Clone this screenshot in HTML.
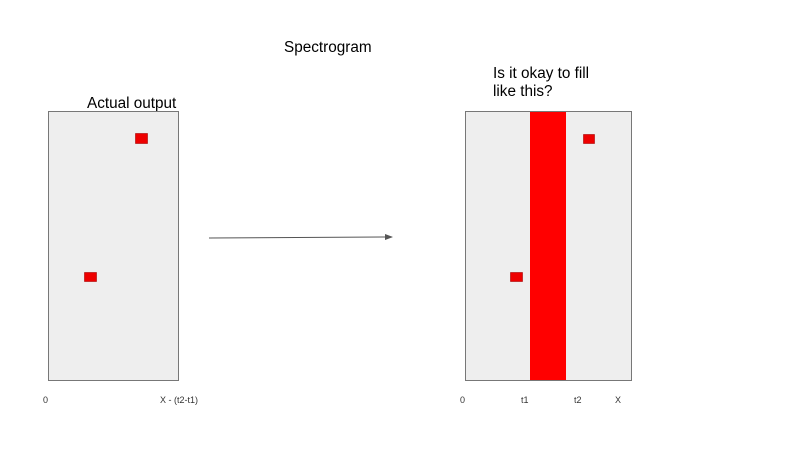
<!DOCTYPE html>
<html><head><meta charset="utf-8"><style>
body{margin:0;width:800px;height:450px;background:#fff;overflow:hidden;font-family:"Liberation Sans",Arial,sans-serif}
</style></head><body>
<svg width="800" height="450" font-family="Liberation Sans, Arial, sans-serif">
<defs><marker id="ah" markerWidth="8" markerHeight="6" refX="7" refY="3" orient="auto"><path d="M0,0 L8,3 L0,6 z" fill="#555"/></marker></defs>
<text x="284" y="52" font-size="15.3" fill="#000">Spectrogram</text>
<text x="87" y="108" font-size="15.3" fill="#000">Actual output</text>
<text x="493" y="78" font-size="15.3" fill="#000">Is it okay to fill</text>
<text x="493" y="96" font-size="15.3" fill="#000">like this?</text>
<rect x="48.5" y="111.5" width="130" height="269" fill="#eeeeee" stroke="#777"/>
<rect x="135.5" y="133.5" width="12" height="10" fill="#ee0000" stroke="#a00" stroke-width="0.6"/>
<rect x="84.5" y="272.5" width="12" height="9" fill="#ee0000" stroke="#a00" stroke-width="0.6"/>
<line x1="209" y1="238" x2="392" y2="237" stroke="#555" stroke-width="1" marker-end="url(#ah)"/>
<rect x="465.5" y="111.5" width="166" height="269" fill="#eeeeee" stroke="#777"/>
<rect x="530" y="112" width="36" height="268" fill="#ff0000"/>
<rect x="583.5" y="134.5" width="11" height="9" fill="#ee0000" stroke="#a00" stroke-width="0.6"/>
<rect x="510.5" y="272.5" width="12" height="9" fill="#ee0000" stroke="#a00" stroke-width="0.6"/>
<g font-size="9" fill="#333">
<text x="43" y="403">0</text>
<text x="160" y="403">X - (t2-t1)</text>
<text x="460" y="403">0</text>
<text x="521" y="403">t1</text>
<text x="574" y="403">t2</text>
<text x="615" y="403">X</text>
</g>
</svg>
</body></html>
